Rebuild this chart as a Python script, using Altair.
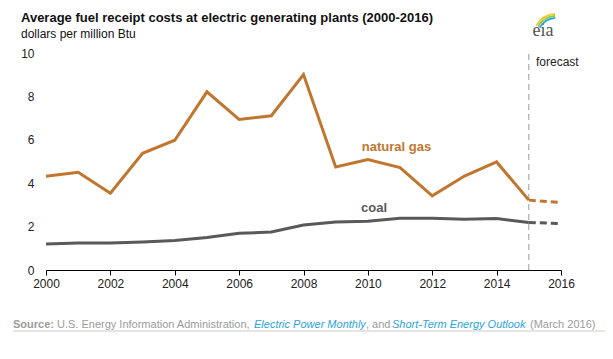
import altair as alt
import pandas as pd

years = list(range(2000, 2017))
gas = [4.32, 4.50, 3.54, 5.38, 5.98, 8.21, 6.94, 7.11, 9.01, 4.75, 5.09, 4.72, 3.42, 4.33, 4.98, 3.22, 3.11]
coal = [1.20, 1.24, 1.24, 1.29, 1.36, 1.50, 1.69, 1.75, 2.07, 2.21, 2.25, 2.38, 2.38, 2.34, 2.37, 2.19, 2.14]
forecast_start = 2015
y_ticks = [0, 2, 4, 6, 8, 10]
x_label_years = list(range(2000, 2017, 2))

GAS_C = "#c0762f"
COAL_C = "#595959"
FONT = "Liberation Sans"

rows = []
for name, vals in (("natural gas", gas), ("coal", coal)):
    for yr, v in zip(years, vals):
        if yr <= forecast_start:
            rows.append({"year": yr, "value": v, "series": name, "seg": "history"})
        if yr >= forecast_start:
            rows.append({"year": yr, "value": v, "series": name, "seg": "forecast"})
df = pd.DataFrame(rows)

xscale = alt.Scale(domain=[2000, 2016], nice=False, zero=False)
yscale = alt.Scale(domain=[0, 10], nice=False)
cscale = alt.Scale(domain=["natural gas", "coal"], range=[GAS_C, COAL_C])

x_enc = alt.X("year:Q", scale=xscale, title=None,
              axis=alt.Axis(values=years, format="d",
                            labelExpr="datum.value % 2 == 0 ? datum.label : ''",
                            domainColor="#000000", tickColor="#000000", tickSize=5,
                            labelFont=FONT, labelFontSize=12, labelColor="#222222",
                            labelPadding=3, grid=False, labelFlush=False))
y_enc = alt.Y("value:Q", scale=yscale, title=None,
              axis=alt.Axis(values=y_ticks, domain=False, ticks=False, grid=False,
                            labelFont=FONT, labelFontSize=12, labelColor="#222222",
                            labelPadding=12))

hist = alt.Chart(df[df.seg == "history"]).mark_line(strokeWidth=3).encode(
    x=x_enc, y=y_enc,
    color=alt.Color("series:N", scale=cscale, legend=None),
    detail="series:N",
)
fc = alt.Chart(df[df.seg == "forecast"]).mark_line(strokeWidth=3, strokeDash=[7, 4]).encode(
    x="year:Q", y="value:Q",
    color=alt.Color("series:N", scale=cscale, legend=None),
    detail="series:N",
)

rule_df = pd.DataFrame({"year": [forecast_start], "lo": [0], "hi": [10]})
vrule = alt.Chart(rule_df).mark_rule(color="#9a9a9a", strokeWidth=1, strokeDash=[6, 4]).encode(
    x="year:Q", y="lo:Q", y2="hi:Q")

lab_df = pd.DataFrame({
    "year": [2010.89, 2010.19],
    "value": [5.67, 2.86],
    "text": ["natural gas", "coal"],
    "series": ["natural gas", "coal"],
})
labels = alt.Chart(lab_df).mark_text(font=FONT, fontSize=13, fontWeight="bold", align="center",
                                     baseline="middle").encode(
    x="year:Q", y="value:Q", text="text:N",
    color=alt.Color("series:N", scale=cscale, legend=None))

def txt(s, x, y, size=12, weight="normal", color="#222222", style="normal", font=FONT, align="left"):
    return alt.Chart(pd.DataFrame({"t": [s]})).mark_text(
        font=font, fontSize=size, fontWeight=weight, color=color, fontStyle=style,
        align=align, baseline="middle").encode(
        x=alt.value(x), y=alt.value(y), text="t:N")

# page coords -> view coords: subtract (46, 53)
OX, OY = 46, 53
texts = [
    txt("Average fuel receipt costs at electric generating plants (2000-2016)", 21 - OX, 18 - OY,
        size=13, weight="bold", color="#111111"),
    txt("dollars per million Btu", 21 - OX, 34 - OY, size=12, color="#111111"),
    txt("forecast", 536 - OX, 62 - OY, size=12, color="#222222"),
    txt("Source:", 13 - OX, 325 - OY, size=11, weight="bold", color="#9b9b9b"),
    txt("U.S. Energy Information Administration,", 57 - OX, 325 - OY, size=11, color="#9b9b9b"),
    txt("Electric Power Monthly", 254 - OX, 325 - OY, size=11, color="#2aa4dc", style="italic"),
    txt(", and", 366 - OX, 325 - OY, size=11, color="#9b9b9b"),
    txt("Short-Term Energy Outlook", 392 - OX, 325 - OY, size=11, color="#2aa4dc", style="italic"),
    txt("(March 2016)", 530 - OX, 325 - OY, size=11, color="#9b9b9b"),
    txt("eia", 543 - OX, 31 - OY, size=18, color="#555555", font="Liberation Serif", align="center"),
]

src_rule = alt.Chart(pd.DataFrame({"a": [0]})).mark_rule(color="#cccccc", strokeWidth=1).encode(
    x=alt.value(13 - OX), x2=alt.value(613 - OX), y=alt.value(331 - OY))

arcs = []
for r, col in ((25, "#f2c41a"), (23, "#8dc63f"), (21, "#27a3dd")):
    arcs.append(alt.Chart(pd.DataFrame({"a": [0]})).mark_arc(
        radius=r, radius2=r - 1.6, theta=5.25, theta2=6.2, color=col).encode(
        x=alt.value(557 - OX), y=alt.value(38 - OY)))

chart = alt.layer(vrule, hist, fc, labels, src_rule, *texts, *arcs).properties(
    width=515, height=217,
    autosize=alt.AutoSizeParams(type="none"),
    padding={"left": 38, "top": 45, "right": 44, "bottom": 81},
).configure_view(stroke=None).configure_axis(labelFont=FONT)

chart.save("out.html", embed_options={"renderer": "svg", "actions": False})
